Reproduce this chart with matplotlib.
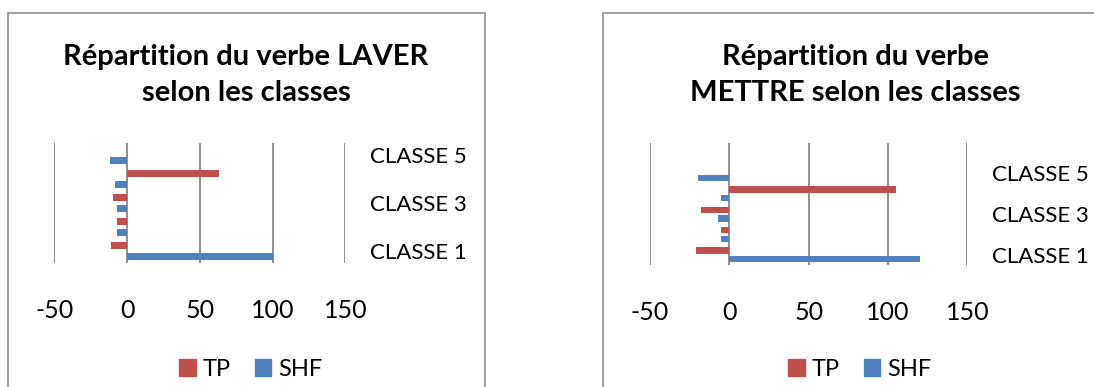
import matplotlib.pyplot as plt
from matplotlib.patches import Rectangle, Patch

# data (bottom category first)
laver_classes = ["CLASSE 1", "CLASSE 2", "CLASSE 3", "CLASSE 4", "CLASSE 5"]
laver_tp = [-11, -7, -10, 63, 0]
laver_shf = [100, -7, -7, -8, -12]

mettre_classes = ["CLASSE 1", "CLASSE 2", "CLASSE 3", "CLASSE 4", "CLASSE 5", "CLASSE 6"]
mettre_tp = [-21, -5, -18, 105, 0, 0]
mettre_shf = [120, -5, -7, -5, -20, 0]

x_ticks = [-50, 0, 50, 100, 150]

RED = '#C0504D'
BLUE = '#4F81BD'
GRID = '#868686'
W, H = 1094, 387

plt.rcParams['font.family'] = ['Lato', 'DejaVu Sans']

fig = plt.figure(figsize=(W / 100, H / 100), dpi=100)


def px_box(left, top, right, bottom):
    """Convert a pixel box (origin top-left) to figure fraction rect."""
    return [left / W, 1 - bottom / H, (right - left) / W, (bottom - top) / H]


def draw_chart(classes, tp, shf, title, frame, plot_box, title_x, legend_x):
    # outer chart border
    fl, ft, fr = frame
    fig.patches.append(Rectangle((fl / W, -0.1), (fr - fl) / W, 1.1 - ft / H,
                                 transform=fig.transFigure, fill=False,
                                 edgecolor='#8C8C8C', linewidth=1.2))

    ax = fig.add_axes(px_box(*plot_box))
    pos = list(range(len(classes)))
    off = 0.22
    h = 0.31
    ax.barh([p - off for p in pos], shf, height=h, color=BLUE,
            edgecolor='none', zorder=3)
    ax.barh([p + off for p in pos], tp, height=h, color=RED,
            edgecolor='none', zorder=3)

    ax.set_xlim(x_ticks[0], x_ticks[-1])
    ax.set_ylim(-0.5, len(classes) - 0.5)
    ax.set_xticks(x_ticks)
    ax.set_xticklabels([str(t) for t in x_ticks], fontsize=18)
    ax.set_yticks(pos)
    ax.set_yticklabels([c if i % 2 == 0 else '' for i, c in enumerate(classes)],
                       fontsize=16)
    ax.yaxis.tick_right()
    ax.tick_params(axis='x', length=0, pad=26)
    ax.tick_params(axis='y', length=0, pad=18)
    for t in ax.get_yticklabels():
        t.set_horizontalalignment('left')
    for s in ax.spines.values():
        s.set_visible(False)
    ax.grid(axis='x', color=GRID, linewidth=1.3, zorder=1)
    ax.set_axisbelow(True)

    fig.text(title_x / W, 1 - 75 / H, title, ha='center', va='center',
             fontsize=21, fontweight='bold', linespacing=1.5)

    handles = [Patch(color=RED), Patch(color=BLUE)]
    fig.legend(handles, ['TP', 'SHF'], loc='center',
               bbox_to_anchor=(legend_x / W, 18 / H), ncol=2, frameon=False,
               fontsize=17, handlelength=0.7, handleheight=0.7,
               handletextpad=0.3, columnspacing=1.0)
    return ax


draw_chart(laver_classes, laver_tp, laver_shf,
           "Répartition du verbe LAVER\nselon les classes",
           frame=(8, 13, 485), plot_box=(54.3, 143, 345.4, 263),
           title_x=246, legend_x=251)

draw_chart(mettre_classes, mettre_tp, mettre_shf,
           "Répartition du verbe\nMETTRE selon les classes",
           frame=(603, 13, 1110), plot_box=(650, 143, 967.3, 265),
           title_x=855, legend_x=860)

fig.savefig('out.png', dpi=100)
